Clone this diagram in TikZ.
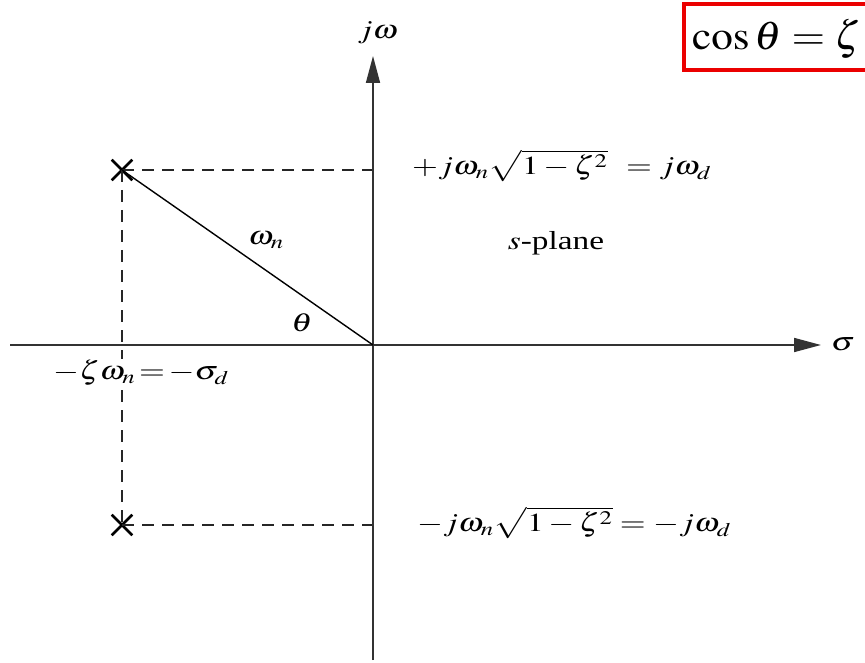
\documentclass[tikz,border=0pt]{standalone}
\usepackage{mathptmx}
\usepackage{fontspec}
\setmainfont{Liberation Serif}
\usetikzlibrary{arrows.meta,shapes.misc}
\definecolor{boxred}{RGB}{235,0,0}
\newcommand{\wide}[1]{\scalebox{1.28}[1]{#1}}
\begin{document}
\begin{tikzpicture}[x=1pt,y=-1pt,
  axisline/.style={line width=1.7pt, draw=black!80},
  dashline/.style={line width=1.4pt, draw=black!85, dash pattern=on 12pt off 8pt},
  pole/.style={draw, cross out, minimum size=18pt, line width=2.6pt, inner sep=0pt},
  lbl/.style={font=\fontsize{26}{30}\selectfont, inner sep=1pt}]
\useasboundingbox (0,0) rectangle (865,663);
\clip (0,0) rectangle (865,663);
% coordinates
\coordinate (O) at (373,345);
\coordinate (xl) at (10,345);
\coordinate (xr) at (821,345);
\coordinate (yb) at (373,660);
\coordinate (yt) at (373,56);
\coordinate (a1) at (373,170);
\coordinate (a2) at (373,525);
\node[pole] (p1) at (122,170) {};
\node[pole] (p2) at (122,525) {};
% dashed guide lines
\draw[dashline] (p1.center) -- (a1);
\draw[dashline] (p2.center) -- (a2);
\draw[dashline] (p1.center) -- (p2.center);
% axes
\draw[axisline, -{Triangle[length=27pt,width=14pt]}] (xl) -- (xr);
\draw[axisline, -{Triangle[length=27pt,width=14pt]}] (yb) -- (yt);
% radius line
\draw[line width=1.4pt] (p1.center) -- (O);
% labels
\node[lbl] (jw) at (378,33) {\wide{$j\omega$}};
\node[lbl] (sig) at (843,344) {\wide{$\sigma$}};
\node[lbl, fill=white] (sd) at (141,373) {\wide{$-\zeta\omega_n\!=\!-\sigma_d$}};
\node[lbl, anchor=west] (top) at (411,166) {\wide{$+j\omega_n\sqrt{1-\zeta^2}\;\,=j\omega_d$}};
\node[lbl, anchor=west] (bot) at (416,523) {\wide{$-j\omega_n\sqrt{1-\zeta^2}=-j\omega_d$}};
\node[lbl] (sp) at (556,243) {\wide{$s$-plane}};
\node[lbl] (wn) at (266,240) {\wide{$\omega_n$}};
\node[lbl] (th) at (302,323) {\wide{$\theta$}};
% red box
\draw[boxred, line width=3.2pt] (684,4) rectangle (920,70);
\node[font=\fontsize{40}{46}\selectfont, anchor=base west, inner sep=0pt] (cs) at (692,50) {\scalebox{1.08}[1]{$\cos\theta=\zeta$}};
\end{tikzpicture}
\end{document}
